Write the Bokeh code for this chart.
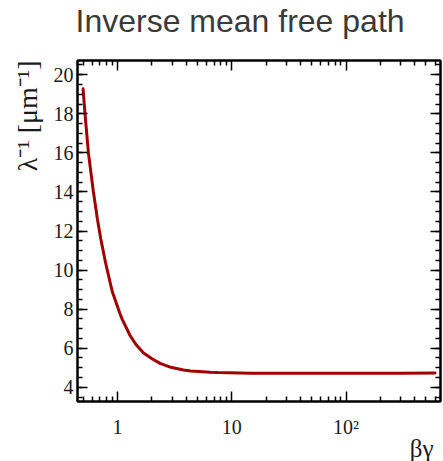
from bokeh.plotting import figure
from bokeh.models import LogAxis, LinearAxis, FixedTicker, Range1d, CustomJSTickFormatter, Title
from bokeh.embed import file_html
from bokeh.resources import INLINE

# data
beta_gamma = [0.50, 0.52, 0.557, 0.616, 0.668, 0.714, 0.785, 0.90, 1.054, 1.106, 1.289, 1.446,
              1.69, 2.02, 2.36, 2.93, 3.78, 4.38, 6.47, 7.52, 14.7, 40.0, 100.0, 300.0, 600.0]
inv_mfp = [19.28, 18.00, 16.00, 14.00, 12.60, 11.60, 10.40, 8.90, 7.75, 7.45, 6.65, 6.20,
           5.75, 5.45, 5.22, 5.02, 4.88, 4.83, 4.77, 4.75, 4.72, 4.72, 4.72, 4.72, 4.73]

x_major = [1, 10, 100]
x_minor = [0.5, 0.6, 0.7, 0.8, 0.9, 2, 3, 4, 5, 6, 7, 8, 9,
           20, 30, 40, 50, 60, 70, 80, 90, 200, 300, 400, 500, 600]
y_major = [4, 6, 8, 10, 12, 14, 16, 18, 20]
y_minor = [3.5 + 0.5 * i for i in range(35)]

title_text = "Inverse mean free path"
x_label = "βγ"
y_label = "λ⁻¹ [μm⁻¹]"

x_lo, x_hi = 0.447, 670
y_lo, y_hi = 3.27, 20.73

TXT = "#1a1a1a"
SERIF = "Liberation Serif"

p = figure(width=443, height=461, x_axis_type="log", output_backend="svg",
           toolbar_location=None, x_axis_location=None, y_axis_location=None,
           x_range=Range1d(x_lo, x_hi), y_range=Range1d(y_lo, y_hi),
           min_border_left=77, min_border_right=3, min_border_top=60, min_border_bottom=60)
p.grid.visible = False
p.outline_line_color = "black"
p.outline_line_width = 2
p.background_fill_color = "white"
p.border_fill_color = "white"

xt = FixedTicker(ticks=x_major, minor_ticks=x_minor)
yt = FixedTicker(ticks=y_major, minor_ticks=y_minor)
fmt = CustomJSTickFormatter(code="""
if (tick >= 100) { return "10\u00b2"; }
return tick.toString();
""")
blank = CustomJSTickFormatter(code='return "";')

def style(ax):
    ax.axis_line_width = 2
    ax.axis_line_color = "black"
    ax.major_tick_in = 10
    ax.major_tick_out = 0
    ax.minor_tick_in = 5
    ax.minor_tick_out = 0
    ax.major_tick_line_width = 1.5
    ax.minor_tick_line_width = 1.5
    ax.major_tick_line_color = "black"
    ax.minor_tick_line_color = "black"
    ax.major_label_text_font = SERIF
    ax.major_label_text_font_size = "20px"
    ax.major_label_text_color = TXT

xb = LogAxis(ticker=xt, formatter=fmt)
style(xb)
xb.major_label_standoff = 14
p.add_layout(xb, "below")

# top axis: ticks only; an invisible one-space axis label reserves room under the title
xa = LogAxis(ticker=xt, formatter=blank, axis_label=" ")
style(xa)
xa.major_label_text_font_size = "1px"
xa.major_label_text_color = "white"
xa.major_label_standoff = 0
xa.axis_label_text_font_size = "1px"
xa.axis_label_text_color = "white"
xa.axis_label_standoff = 18
p.add_layout(xa, "above")

yl = LinearAxis(ticker=yt)
style(yl)
yl.major_label_standoff = 4
p.add_layout(yl, "left")

yr = LinearAxis(ticker=yt, formatter=blank)
style(yr)
yr.major_label_text_font_size = "1px"
yr.major_label_text_color = "white"
yr.major_label_standoff = 0
p.add_layout(yr, "right")

p.line(beta_gamma, inv_mfp, line_color="#a00000", line_width=3, line_cap="round")

p.add_layout(Title(text=title_text, text_font="Liberation Sans", text_font_size="32px",
                   text_font_style="normal", text_color="#3a3a3a",
                   align="left", vertical_align="bottom", offset=-2, standoff=0), "above")
p.add_layout(Title(text=y_label, text_font=SERIF, text_font_size="28px",
                   text_font_style="normal", text_color=TXT,
                   align="right", vertical_align="bottom", offset=0, standoff=16), "left")
p.add_layout(Title(text=x_label, text_font=SERIF, text_font_size="25px",
                   text_font_style="normal", text_color=TXT,
                   align="right", vertical_align="top", offset=7, standoff=-12), "below")

open("out.html", "w").write(file_html(p, INLINE))
